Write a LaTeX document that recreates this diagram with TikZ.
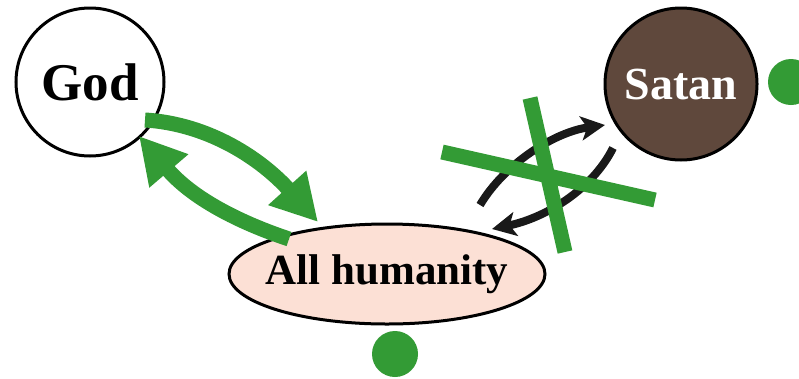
\documentclass[tikz,border=0pt]{standalone}
\usepackage{fontspec}
\setmainfont{Liberation Serif}
\usetikzlibrary{arrows.meta,shapes.geometric}
\definecolor{cgreen}{RGB}{51,155,53}
\definecolor{satanbrown}{RGB}{95,72,60}
\definecolor{peach}{RGB}{252,224,213}
\tikzset{
  being/.style={circle, draw=black, line width=3pt, inner sep=0pt, minimum size=148pt},
  greenarrow/.style={cgreen, line width=15pt, -{Triangle[width=48pt,length=46pt]}},
  blackarrow/.style={black!90, line width=8pt, -{Stealth[width=24pt,length=24pt,inset=6pt]}},
  crossbar/.style={cgreen, line width=15pt},
  dot/.style={circle, fill=cgreen, inner sep=0pt, minimum size=46pt},
  bigtext/.style={font=\fontsize{43}{50}\selectfont\bfseries}
}
\begin{document}
\begin{tikzpicture}[x=1pt,y=-1pt]
\useasboundingbox (0,0) rectangle (799,378);
\clip (0,0) rectangle (799,378);
\fill[white] (0,0) rectangle (799,378);

% nodes
\node[being, fill=white] (god) at (90,82) {\fontsize{53}{60}\selectfont\bfseries God};
\node[being, fill=satanbrown, minimum size=152pt, text=white] (satan) at (681,84) {\fontsize{46}{52}\selectfont\bfseries Satan};
\node[ellipse, draw=black, line width=3pt, fill=peach, inner sep=0pt, minimum width=316pt, minimum height=100pt] (hum) at (387,274) {};
\node[bigtext, inner sep=0pt] (humtext) at (hum.center) {All humanity};

% dots
\node[dot] (dotS) at (791,82) {};
\node[dot] (dotH) at (395,354) {};

% connector end points
\coordinate (g1) at (145,120);
\coordinate (h1) at (318,222);
\coordinate (h2) at (289,239);
\coordinate (g2) at (139,136);
\coordinate (hs1) at (480,205);
\coordinate (s1) at (605,125);
\coordinate (s2) at (613,148);
\coordinate (hs2) at (492,229);

% green arrows God <-> humanity
\draw[greenarrow] (g1) .. controls (210,124) and (262,160) .. (h1);
\draw[greenarrow] (h2) .. controls (238,222) and (192,198) .. (g2);

% black arrows humanity <-> Satan
\draw[blackarrow] (hs1) .. controls (505,163) and (555,132) .. (s1);
\draw[blackarrow] (s2) .. controls (592,190) and (545,218) .. (hs2);

% green cross
\coordinate (xa1) at (442,152);
\coordinate (xa2) at (655,200);
\coordinate (xb1) at (530,98);
\coordinate (xb2) at (565,252);
\draw[crossbar] (xa1) -- (xa2);
\draw[crossbar] (xb1) -- (xb2);
\end{tikzpicture}
\end{document}
